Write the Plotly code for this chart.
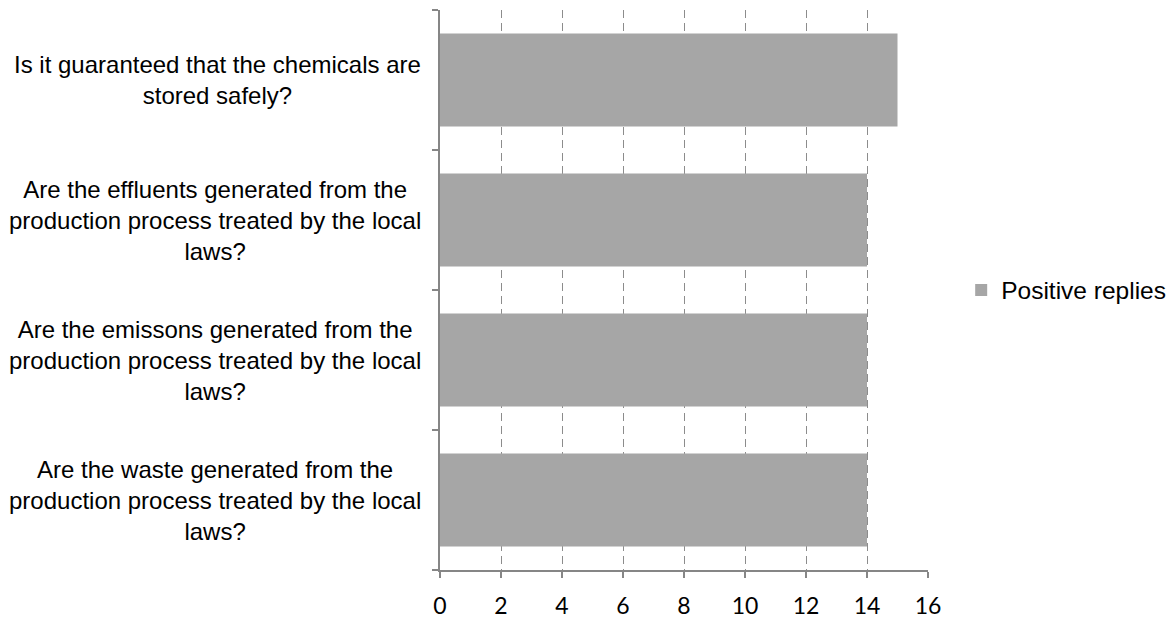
import plotly.graph_objects as go

# Survey questions (bottom to top) and number of positive replies
questions = [
    "Are the waste generated from the<br>production process treated by the local<br>laws?",
    "Are the emissons generated from the<br>production process treated by the local<br>laws?",
    "Are the effluents generated from the<br>production process treated by the local<br>laws?",
    "Is it guaranteed that the chemicals are<br>stored safely?",
]
positive_replies = [14, 14, 14, 15]
x_ticks = [0, 2, 4, 6, 8, 10, 12, 14, 16]
series_name = "Positive replies"

BAR = "#A6A6A6"
AXIS = "#868686"
LABEL_FONT = dict(family="Arial, Liberation Sans", size=24, color="#000000")

fig = go.Figure(
    go.Bar(
        y=questions,
        x=positive_replies,
        orientation="h",
        name=series_name,
        marker=dict(color=BAR, line=dict(width=0)),
        showlegend=True,
    )
)

# Question labels drawn as centered multi-line text beside the category axis
for q in questions:
    fig.add_annotation(
        x=0, xref="paper", y=q, yref="y",
        text=q, showarrow=False,
        xanchor="right", yanchor="middle", align="center",
        xshift=-17,
        font=LABEL_FONT,
    )

fig.update_layout(
    width=1175, height=624,
    margin=dict(l=440, r=247, t=10, b=54, autoexpand=False),
    paper_bgcolor="white", plot_bgcolor="white",
    bargap=0.336,
    showlegend=True,
    legend=dict(
        x=1.068, y=0.5, xanchor="left", yanchor="middle",
        font=dict(family="Arial, Liberation Sans", size=24.5, color="#000000"),
        bgcolor="rgba(0,0,0,0)",
    ),
    xaxis=dict(
        range=[0, 16], tickvals=x_ticks, ticktext=[str(v) for v in x_ticks],
        showgrid=True, gridcolor="#8C8C8C", griddash="8px,5px", gridwidth=1.2,
        showline=True, linecolor=AXIS, linewidth=1.5,
        ticks="outside", ticklen=6, tickcolor=AXIS, tickwidth=1.5,
        zeroline=False, automargin=False,
        ticklabelstandoff=9,
        tickfont=dict(family="Lato, Open Sans", size=23, color="#000000"),
    ),
    yaxis=dict(
        type="category", categoryorder="array", categoryarray=questions,
        showticklabels=False, tickson="boundaries",
        ticks="outside", ticklen=6, tickcolor=AXIS, tickwidth=1.5,
        showline=True, linecolor=AXIS, linewidth=1.5,
        showgrid=False, zeroline=False, automargin=False,
    ),
)

fig.write_html("out.html")
